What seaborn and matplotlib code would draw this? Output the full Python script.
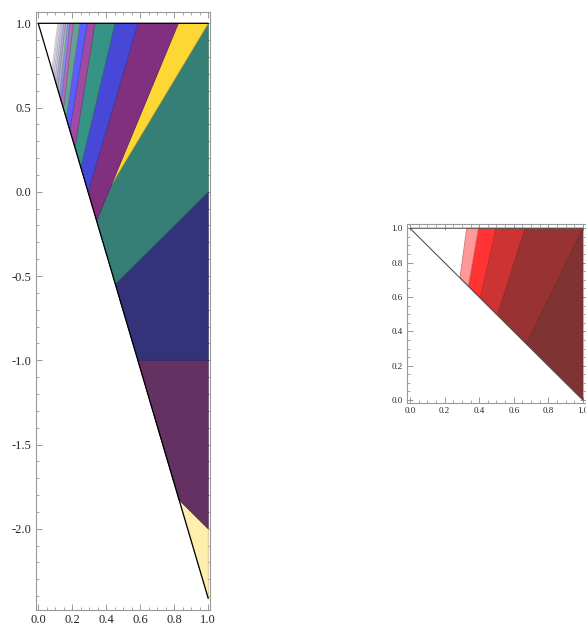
import matplotlib
matplotlib.use("Agg")
import matplotlib.pyplot as plt
from matplotlib.ticker import MultipleLocator, FuncFormatter
import seaborn as sns

sns.set_style("ticks")
plt.rcParams["font.family"] = ["Liberation Serif", "DejaVu Serif"]
plt.rcParams["axes.unicode_minus"] = False

# ---- left panel: big regions (x, y vertices) ----
LIGHT_YELLOW_X = [0.828, 1.0, 1.0]
LIGHT_YELLOW_Y = [-1.828, -2.0, -2.414]
DARK_PURPLE_X = [0.586, 1.0, 1.0, 0.828]
DARK_PURPLE_Y = [-1.0, -1.0, -2.0, -1.828]
NAVY_X = [0.453, 1.0, 1.0, 0.586]
NAVY_Y = [-0.547, 0.0, -1.0, -1.0]
TEAL_X = [0.343, 0.430, 1.0, 1.0, 0.453]
TEAL_Y = [-0.171, 0.041, 1.0, 0.0, -0.547]
YELLOW_X = [0.430, 0.824, 1.0]
YELLOW_Y = [0.041, 1.0, 1.0]
BIG_COLORS = ["#FFEFAF", "#633262", "#34337A", "#357F77", "#FDD835"]

# band boundaries: where each one meets the top edge and the slanted edge
BAND_TOP_X = [0.824, 0.586, 0.451, 0.333, 0.288, 0.245, 0.206, 0.186,
              0.172, 0.160, 0.150, 0.140, 0.131, 0.122, 0.115]
BAND_HYP_X = [0.343, 0.293, 0.250, 0.216, 0.186, 0.165, 0.148, 0.135,
              0.124, 0.114, 0.106, 0.098, 0.091, 0.085, 0.080]
BAND_HYP_Y = [-0.171, 0.000, 0.147, 0.263, 0.365, 0.437, 0.495, 0.539,
              0.577, 0.611, 0.638, 0.665, 0.689, 0.710, 0.727]
BAND_COLORS = ["#80307F", "#4848D8", "#359485", "#A04AA0", "#5C5CFF",
               "#66A097", "#B070B8", "#8C8CF2", "#9CC4B8", "#D0A0D8",
               "#BCC4F2", "#CCE2DA", "#EED8EE", "#F4F2FA"]

OUTLINE_X = [1.0, 0.0, 1.0]
OUTLINE_Y = [1.0, 1.0, -2.414]

# ---- right panel ----
R_TOP_X = [1.0, 0.665, 0.497, 0.395, 0.328]
R_HYP_X = [0.674, 0.505, 0.405, 0.337, 0.289]
R_HYP_Y = [0.326, 0.495, 0.595, 0.663, 0.711]
R_CORNER_X = [1.0, 0.674, 1.0]
R_CORNER_Y = [1.0, 0.326, 0.0]
R_CORNER_COLOR = "#7F3333"
R_BAND_COLORS = ["#993333", "#CC3333", "#FF3333", "#FF9999"]
R_OUTLINE_X = [1.0, 0.0, 1.0]
R_OUTLINE_Y = [1.0, 1.0, 0.0]


def darker(c, f=0.8):
    r, g, b = matplotlib.colors.to_rgb(c)
    return (r * f, g * f, b * f)


def poly(ax, xs, ys, color):
    ax.fill(xs, ys, facecolor=color, edgecolor=darker(color), linewidth=0.6, zorder=2)


def style_frame(ax, xmaj, xmin, ymaj, ymin, size):
    ax.xaxis.set_major_locator(MultipleLocator(xmaj))
    ax.xaxis.set_minor_locator(MultipleLocator(xmin))
    ax.yaxis.set_major_locator(MultipleLocator(ymaj))
    ax.yaxis.set_minor_locator(MultipleLocator(ymin))
    fmt = FuncFormatter(lambda v, p: f"{v:.1f}")
    ax.xaxis.set_major_formatter(fmt)
    ax.yaxis.set_major_formatter(fmt)
    ax.tick_params(which="both", direction="in", top=True, right=True,
                   color="#999999", labelsize=size, pad=3)
    ax.tick_params(which="major", length=4, width=0.7)
    ax.tick_params(which="minor", length=2, width=0.6)
    for s in ax.spines.values():
        s.set_color("#999999")
        s.set_linewidth(0.8)
    ax.set_xlabel("")
    ax.set_ylabel("")


fig = plt.figure(figsize=(5.86, 6.28), dpi=100)

# left panel
ax = fig.add_axes([0.0609, 0.0287, 0.2974, 0.9527])
for xs, ys, c in zip([LIGHT_YELLOW_X, DARK_PURPLE_X, NAVY_X, TEAL_X, YELLOW_X],
                     [LIGHT_YELLOW_Y, DARK_PURPLE_Y, NAVY_Y, TEAL_Y, YELLOW_Y],
                     BIG_COLORS):
    poly(ax, xs, ys, c)
for i, c in enumerate(BAND_COLORS):
    xs = [BAND_TOP_X[i], BAND_HYP_X[i], BAND_HYP_X[i + 1], BAND_TOP_X[i + 1]]
    ys = [1.0, BAND_HYP_Y[i], BAND_HYP_Y[i + 1], 1.0]
    poly(ax, xs, ys, c)
sns.lineplot(x=OUTLINE_X, y=OUTLINE_Y, sort=False, estimator=None, color="black",
             linewidth=0.9, ax=ax, zorder=3)
ax.set_xlim(-0.015, 1.01)
ax.set_ylim(-2.482, 1.069)
style_frame(ax, 0.2, 0.05, 0.5, 0.1, 9)

# right panel
ax2 = fig.add_axes([0.694, 0.3578, 0.3067, 0.285])
poly(ax2, R_CORNER_X, R_CORNER_Y, R_CORNER_COLOR)
for i, c in enumerate(R_BAND_COLORS):
    xs = [R_TOP_X[i], R_HYP_X[i], R_HYP_X[i + 1], R_TOP_X[i + 1]]
    ys = [1.0, R_HYP_Y[i], R_HYP_Y[i + 1], 1.0]
    poly(ax2, xs, ys, c)
sns.lineplot(x=R_OUTLINE_X, y=R_OUTLINE_Y, sort=False, estimator=None, color="#555555",
             linewidth=0.8, ax=ax2, zorder=3)
ax2.set_xlim(-0.019, 1.02)
ax2.set_ylim(-0.019, 1.023)
style_frame(ax2, 0.2, 0.05, 0.2, 0.05, 6.5)

fig.savefig("out.png", dpi=100)
